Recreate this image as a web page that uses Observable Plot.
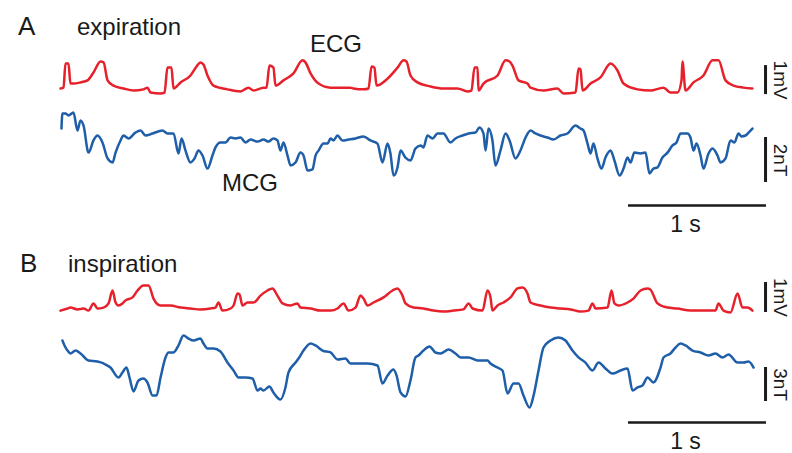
<!DOCTYPE html>
<html><head><meta charset="utf-8">
<script src="https://cdn.jsdelivr.net/npm/d3@7"></script>
<script src="https://cdn.jsdelivr.net/npm/@observablehq/plot@0.6"></script>
<style>
html,body{margin:0;padding:0;background:#fff;}
#chart{position:relative;width:792px;height:453px;overflow:hidden;font-family:"Liberation Sans",Arial,sans-serif;}
#chart svg{position:absolute;left:0;}
</style></head><body><div id="chart"></div>
<script>
// ---------- DATA: [time (s), amplitude] ----------
const ecgA = [[0,0],[0.022,0.03],[0.036,0.86],[0.058,0.86],[0.072,0.17],[0.094,0.17],[0.145,0.21],[0.196,0.28],[0.239,0.55],[0.290,0.93],[0.312,0.90],[0.341,0.28],[0.384,0.10],[0.457,0],[0.529,-0.07],[0.601,-0.03],[0.630,0.03],[0.652,-0.14],[0.725,-0.17],[0.754,-0.14],[0.775,0.72],[0.804,0.72],[0.819,0],[0.870,0.21],[0.942,0.45],[0.986,0.76],[1.014,0.90],[1.036,0.83],[1.065,0.45],[1.109,0.10],[1.210,-0.03],[1.304,-0.10],[1.362,0.03],[1.399,-0.07],[1.471,0.03],[1.493,0.03],[1.514,0.79],[1.543,0.72],[1.558,0.10],[1.616,0.28],[1.688,0.52],[1.754,0.97],[1.775,0.90],[1.812,0.52],[1.870,0.17],[1.957,0.03],[2.101,0.03],[2.123,0],[2.196,-0.03],[2.232,0],[2.254,0.76],[2.275,0.72],[2.290,0.10],[2.370,0.34],[2.442,0.72],[2.486,0.97],[2.507,0.93],[2.536,0.45],[2.587,0.21],[2.681,0.07],[2.775,0],[2.877,0],[2.949,-0.10],[2.978,-0.07],[3.000,0.72],[3.022,0.72],[3.029,-0.07],[3.065,0.17],[3.167,0.45],[3.225,0.97],[3.254,0.93],[3.275,0.79],[3.319,0.28],[3.384,0.17],[3.406,0.03],[3.500,-0.07],[3.601,0],[3.645,-0.17],[3.732,-0.14],[3.754,0.69],[3.768,0.66],[3.783,-0.07],[3.841,0.17],[3.913,0.38],[3.986,0.86],[4.036,0.62],[4.080,0.17],[4.181,-0.03],[4.275,-0.07],[4.370,0.03],[4.420,-0.14],[4.471,-0.14],[4.500,0.28],[4.507,0.93],[4.529,-0.07],[4.587,0.21],[4.659,0.45],[4.725,0.97],[4.768,0.97],[4.819,0.28],[4.877,0.10],[4.949,0.03],[5.014,0]];

const mcgA = [[0.007,0.31],[0.014,0.98],[0.036,0.98],[0.058,0.89],[0.094,1.02],[0.123,0.22],[0.145,0.67],[0.167,0.44],[0.203,-0.76],[0.239,-0.22],[0.268,0],[0.304,-0.31],[0.341,-1.02],[0.377,-1.20],[0.399,-0.76],[0.435,-0.22],[0.457,0],[0.493,-0.13],[0.543,0.13],[0.580,0.22],[0.616,0],[0.667,0.09],[0.739,0.22],[0.775,0.09],[0.819,0.09],[0.855,-0.80],[0.877,-0.13],[0.906,-0.67],[0.942,-1.20],[0.971,-1.02],[1.000,-0.67],[1.029,-0.89],[1.065,-1.47],[1.101,-0.89],[1.123,-0.53],[1.159,-0.31],[1.196,-0.31],[1.232,-0.09],[1.268,-0.13],[1.304,-0.09],[1.341,-0.31],[1.377,-0.18],[1.428,-0.27],[1.471,-0.18],[1.507,-0.27],[1.543,-0.13],[1.572,-0.22],[1.594,-0.67],[1.616,-0.31],[1.645,-0.89],[1.667,-1.33],[1.703,-1.20],[1.739,-0.76],[1.761,-0.89],[1.790,-1.56],[1.826,-1.51],[1.848,-0.89],[1.870,-0.67],[1.906,-0.36],[1.935,-0.36],[1.957,-0.13],[1.978,-0.22],[2.007,0],[2.043,-0.22],[2.087,-0.18],[2.138,-0.13],[2.196,-0.04],[2.246,-0.22],[2.297,-0.36],[2.333,-1.20],[2.370,-0.36],[2.391,-0.80],[2.413,-1.78],[2.442,-1.42],[2.464,-0.67],[2.500,-0.98],[2.536,-1.11],[2.572,-0.58],[2.609,-0.44],[2.630,-0.53],[2.659,0],[2.696,-0.13],[2.732,0.09],[2.775,0.09],[2.826,-0.31],[2.862,-0.13],[2.913,0],[2.957,0.09],[3.007,0.13],[3.036,0.36],[3.065,0.09],[3.080,-0.67],[3.101,0.31],[3.130,-0.22],[3.152,-1.33],[3.188,-0.67],[3.225,0.09],[3.254,-0.22],[3.297,-1.02],[3.333,-0.67],[3.370,-0.09],[3.406,0.22],[3.442,0.09],[3.478,0],[3.529,-0.09],[3.572,-0.18],[3.623,0],[3.674,0.09],[3.732,0.44],[3.768,0.31],[3.790,0.22],[3.819,-0.36],[3.841,-0.80],[3.862,-0.36],[3.891,-1.02],[3.920,-1.47],[3.949,-0.98],[3.986,-0.67],[4.014,-1.11],[4.051,-1.78],[4.080,-1.47],[4.109,-0.98],[4.130,-1.20],[4.159,-0.76],[4.203,-0.80],[4.239,-0.76],[4.268,-1.69],[4.297,-1.47],[4.326,-1.42],[4.362,-0.98],[4.399,-0.76],[4.435,-0.44],[4.464,-0.31],[4.493,0.09],[4.543,0.09],[4.565,-0.09],[4.587,-0.67],[4.609,-0.36],[4.638,-0.89],[4.659,-1.47],[4.696,-0.80],[4.725,-0.58],[4.761,-0.89],[4.783,-1.20],[4.819,-1.02],[4.855,-0.22],[4.884,-0.31],[4.913,0.09],[4.935,-0.04],[4.964,0],[4.986,0.13],[5.014,0.31]];

const ecgB = [[0,-0.07],[0.051,0],[0.072,0.03],[0.123,-0.03],[0.167,0],[0.203,-0.07],[0.239,0.17],[0.268,0],[0.312,0.03],[0.348,0.17],[0.377,0.60],[0.399,0.20],[0.420,0.10],[0.449,0.17],[0.471,0.27],[0.522,0.37],[0.558,0.60],[0.601,0.77],[0.638,0.77],[0.674,0.33],[0.725,0.10],[0.797,0.10],[0.870,0.03],[0.942,0],[1.014,-0.03],[1.087,0],[1.123,0.03],[1.145,0.20],[1.174,-0.07],[1.232,0],[1.254,0.10],[1.283,0.50],[1.297,0.47],[1.319,0.10],[1.355,0.20],[1.399,0.20],[1.449,0.43],[1.500,0.60],[1.536,0.67],[1.572,0.43],[1.609,0.17],[1.667,0.10],[1.717,0.17],[1.739,0.03],[1.812,0],[1.884,-0.07],[1.957,-0.07],[2.007,0],[2.051,0.17],[2.087,-0.07],[2.138,0.03],[2.174,0.43],[2.196,0.33],[2.225,0.10],[2.268,0.20],[2.341,0.37],[2.406,0.60],[2.442,0.67],[2.478,0.43],[2.500,0.17],[2.558,0.03],[2.630,0],[2.703,-0.07],[2.775,-0.10],[2.848,-0.07],[2.920,-0.03],[2.957,0.17],[2.986,0],[3.058,-0.07],[3.094,0.60],[3.116,0.37],[3.130,-0.07],[3.167,0.10],[3.210,0.20],[3.261,0.37],[3.312,0.67],[3.348,0.70],[3.384,0.50],[3.406,0.20],[3.478,0.10],[3.551,0.03],[3.623,0],[3.696,-0.03],[3.768,-0.10],[3.826,-0.07],[3.855,0.17],[3.877,0],[3.964,0.03],[3.993,0.60],[4.014,0.17],[4.043,0.10],[4.109,0.20],[4.152,0.33],[4.203,0.60],[4.254,0.67],[4.275,0.63],[4.326,0.17],[4.399,0.03],[4.471,0],[4.565,-0.07],[4.659,-0.07],[4.746,-0.07],[4.768,0.17],[4.804,-0.07],[4.855,-0.13],[4.906,0.50],[4.942,0.03],[4.978,0.03],[5.014,-0.07]];

const mcgB = [[0.014,2.21],[0.029,1.77],[0.051,1.32],[0.072,1.06],[0.109,1.32],[0.145,1.06],[0.203,0.44],[0.268,0.35],[0.312,0.18],[0.362,-0.18],[0.420,-1.06],[0.449,-0.62],[0.478,-0.18],[0.500,-1.06],[0.529,-2.29],[0.565,-1.32],[0.601,-1.15],[0.630,-1.50],[0.667,-2.65],[0.696,-2.65],[0.725,-1.06],[0.761,0.71],[0.783,1.15],[0.819,1.15],[0.855,1.77],[0.891,2.65],[0.928,2.38],[0.964,2.21],[1.014,2.38],[1.036,1.94],[1.065,1.50],[1.109,1.50],[1.159,1.24],[1.210,0.26],[1.254,-0.44],[1.290,-1.06],[1.341,-1.06],[1.391,-1.15],[1.428,-2.21],[1.449,-2.03],[1.471,-2.21],[1.514,-1.85],[1.543,-2.38],[1.594,-3.00],[1.630,-1.94],[1.652,-0.62],[1.703,0.26],[1.725,0.62],[1.761,1.32],[1.812,1.94],[1.848,1.77],[1.899,1.32],[1.957,1.15],[2.007,0.53],[2.065,0.62],[2.101,0.18],[2.159,0.18],[2.225,0.18],[2.297,0],[2.333,-1.59],[2.370,-0.88],[2.413,-0.35],[2.435,-0.88],[2.464,-2.38],[2.500,-2.74],[2.536,-1.32],[2.572,0.71],[2.594,0.88],[2.630,1.32],[2.674,1.68],[2.717,1.15],[2.754,1.06],[2.812,1.41],[2.862,1.06],[2.899,0.71],[2.957,0.71],[3.022,0.44],[3.094,0.44],[3.116,0.18],[3.167,-0.18],[3.203,-0.44],[3.239,-2.47],[3.283,-1.59],[3.319,-1.59],[3.355,-2.65],[3.399,-3.71],[3.428,-2.65],[3.464,-0.44],[3.500,1.59],[3.551,2.21],[3.609,2.47],[3.659,2.21],[3.710,1.32],[3.754,0.71],[3.804,0.26],[3.855,-0.44],[3.899,0.26],[3.949,-0.26],[4.000,-0.71],[4.058,-0.44],[4.109,-0.26],[4.145,-2.21],[4.181,-1.94],[4.217,-1.77],[4.254,-1.06],[4.297,-1.50],[4.348,-0.18],[4.370,0.71],[4.420,1.06],[4.457,1.59],[4.493,1.94],[4.529,1.77],[4.580,1.32],[4.638,1.15],[4.696,0.88],[4.746,1.06],[4.797,0.71],[4.841,0.97],[4.906,0.26],[4.949,0.26],[4.986,0.35],[5.022,-0.18]];

// scale bars (size in data units) and labels
const ampBars = {ecgA: {size: 1, label: "1mV"}, mcgA: {size: 2, label: "2nT"}, ecgB: {size: 1, label: "1mV"}, mcgB: {size: 3, label: "3nT"}};
const timeBar = {size: 1, label: "1 s"};
const panelLabels = [
  {text: "A", x: 18, y: 35, size: 26},
  {text: "expiration", x: 77, y: 35, size: 24},
  {text: "ECG", x: 310, y: 52, size: 24},
  {text: "MCG", x: 222, y: 191, size: 24},
  {text: "B", x: 20, y: 272, size: 26},
  {text: "inspiration", x: 68, y: 272, size: 24}
];

// ---------- LAYOUT ----------
const W = 792, H = 453, ML = 60, MR = 40, PX_PER_S = 138;
const tMax = (W - ML - MR) / PX_PER_S;
const RED = "#e6212b", BLUE = "#1f5ea8", INK = "#1a1a1a";
const barT = 5.109, labelT = 5.217, timeBarStart = 4.116, timeLabelT = 4.529;
const layout = {
  ecgA: {top: 0, height: 108, base: 88, gain: 29, barLow: -0.21},
  mcgA: {top: 108, height: 140, base: 135, gain: 22.5, barLow: -2.09, tbarY: -3.111, tlabelY: -3.956},
  ecgB: {top: 248, height: 80, base: 308, gain: 30, barLow: -0.133},
  mcgB: {top: 328, height: 125, base: 365, gain: 11.33, barLow: -3.177, tbarY: -5.031, tlabelY: -6.708}
};
const traces = {ecgA: [ecgA, RED], mcgA: [mcgA, BLUE], ecgB: [ecgB, RED], mcgB: [mcgB, BLUE]};

const chart = document.getElementById("chart");
for (const key of Object.keys(traces)) {
  const [data, color] = traces[key];
  const L = layout[key], bar = ampBars[key];
  const y0 = (L.base - (L.top + L.height)) / L.gain, y1 = (L.base - L.top) / L.gain;
  const marks = [
    Plot.line(data, {x: d => d[0], y: d => d[1], stroke: color, strokeWidth: 2.5, curve: "monotone-x", strokeLinejoin: "round", strokeLinecap: "round"}),
    Plot.ruleX([barT], {y1: L.barLow, y2: L.barLow + bar.size, stroke: INK, strokeWidth: 3}),
    Plot.text([bar.label], {x: labelT, y: L.barLow + bar.size / 2, rotate: 90, fontSize: 19, fill: INK, fontFamily: "Liberation Sans, Arial, sans-serif"})
  ];
  if (L.tbarY !== undefined) {
    marks.push(Plot.ruleY([L.tbarY], {x1: timeBarStart, x2: timeBarStart + timeBar.size, stroke: INK, strokeWidth: 2.5}));
    marks.push(Plot.text([timeBar.label], {x: timeLabelT, y: L.tlabelY, fontSize: 23, fill: INK, fontFamily: "Liberation Sans, Arial, sans-serif"}));
  }
  const svg = Plot.plot({
    width: W, height: L.height,
    marginTop: 0, marginBottom: 0, marginLeft: ML, marginRight: MR,
    x: {domain: [0, tMax], axis: null},
    y: {domain: [y0, y1], axis: null},
    marks
  });
  svg.style.top = L.top + "px";
  chart.append(svg);
}

// panel annotations
const ov = d3.select(chart).append("svg").attr("width", W).attr("height", H).style("top", "0px");
ov.selectAll("text").data(panelLabels).join("text")
  .attr("x", d => d.x).attr("y", d => d.y)
  .attr("font-size", d => d.size)
  .attr("font-family", "Liberation Sans, Arial, sans-serif")
  .attr("fill", INK)
  .text(d => d.text);
</script></body></html>
